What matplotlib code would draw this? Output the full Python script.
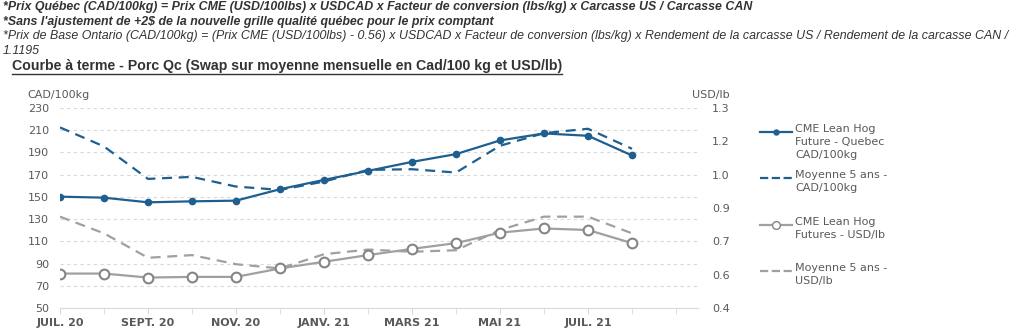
import numpy as np
import matplotlib.pyplot as plt
from matplotlib.lines import Line2D

# ============================================================================
# DATA
# ============================================================================

months = ['JUIL. 20', 'AOÛT 20', 'SEPT. 20', 'OCT. 20', 'NOV. 20', 'DÉC. 20',
          'JANV. 21', 'FÉVR. 21', 'MARS 21', 'AVR. 21', 'MAI 21', 'JUIN 21',
          'JUIL. 21', 'AOÛT 21', 'SEPT. 21']

# CAD/100kg (left axis)
quebec_cad = [150.2, 149.3, 145.1, 146.0, 146.6, 156.9, 165.3, 173.4,
              181.5, 188.5, 200.8, 207.1, 205.0, 187.3]
moy5_cad = [212.5, 195.4, 166.2, 168.0, 159.3, 156.3, 163.8, 174.3,
            174.9, 171.9, 196.0, 207.4, 211.3, 193.3]

# USD/lb (right axis)
cme_usd = [0.555, 0.555, 0.537, 0.540, 0.540, 0.578, 0.608, 0.638,
           0.666, 0.692, 0.739, 0.758, 0.751, 0.692]
moy5_usd = [0.811, 0.736, 0.626, 0.638, 0.597, 0.578, 0.642, 0.663,
            0.653, 0.660, 0.751, 0.811, 0.811, 0.736]

left_ticks = [50, 70, 90, 110, 130, 150, 170, 190, 210, 230]
right_ticks = [0.4, 0.55, 0.7, 0.85, 1.0, 1.15, 1.3]
right_labels = ['0.4', '0.6', '0.7', '0.9', '1.0', '1.2', '1.3']

notes = [
    ("*Prix Québec (CAD/100kg) = Prix CME (USD/100lbs) x USDCAD x Facteur de conversion (lbs/kg) x Carcasse US / Carcasse CAN", 'bold'),
    ("*Sans l'ajustement de +2$ de la nouvelle grille qualité québec pour le prix comptant", 'bold'),
    ("*Prix de Base Ontario (CAD/100kg) = (Prix CME (USD/100lbs) - 0.56) x USDCAD x Facteur de conversion (lbs/kg) x Rendement de la carcasse US / Rendement de la carcasse CAN /", 'normal'),
    ("1.1195", 'normal'),
]
title = "Courbe à terme - Porc Qc (Swap sur moyenne mensuelle en Cad/100 kg et USD/lb)"

# ============================================================================
# STYLE
# ============================================================================

blue = '#1f5f8f'
grey = '#a0a0a0'
label_col = '#595959'

W, H = 1024, 335
fig = plt.figure(figsize=(W / 100, H / 100), dpi=100)
ax1 = fig.add_axes([60 / W, 1 - 308 / H, 638 / W, 200 / H])
ax2 = ax1.twinx()

x = np.arange(len(quebec_cad))

ax1.plot(x, quebec_cad, color=blue, linewidth=1.6, marker='o', markersize=4.5,
         label='CME Lean Hog\nFuture - Quebec\nCAD/100kg', zorder=4)
ax1.plot(x, moy5_cad, color=blue, linewidth=1.6, linestyle=(0, (4.5, 3)),
         label='Moyenne 5 ans -\nCAD/100kg', zorder=3)
ax2.plot(x, cme_usd, color=grey, linewidth=1.6, marker='o', markersize=7,
         markerfacecolor='white', markeredgecolor='#858585', markeredgewidth=1.5,
         label='CME Lean Hog\nFutures - USD/lb', zorder=4)
ax2.plot(x, moy5_usd, color=grey, linewidth=1.6, linestyle=(0, (4.5, 3)),
         label='Moyenne 5 ans -\nUSD/lb', zorder=3)

ax1.set_ylim(50, 230)
ax2.set_ylim(0.4, 1.3)
ax1.set_xlim(0, 14.5)

ax1.set_yticks(left_ticks)
ax1.set_yticklabels([str(v) for v in left_ticks])
ax2.set_yticks(right_ticks)
ax2.set_yticklabels(right_labels)

# month ticks; labels every two months, last one (SEPT. 21) left blank
ax1.set_xticks(np.arange(len(months)), minor=True)
ax1.set_xticks(np.arange(0, len(months) - 1, 2))
ax1.set_xticklabels(months[:-1:2], fontweight='bold')

ax1.grid(axis='y', color='#d9d9d9', linestyle=(0, (3, 3)), linewidth=0.8)
ax1.set_axisbelow(True)

for a in (ax1, ax2):
    for s in a.spines.values():
        s.set_visible(False)
ax1.spines['bottom'].set_visible(True)
ax1.spines['bottom'].set_color('#d9d9d9')

ax1.tick_params(axis='y', length=0, pad=8, labelsize=8, labelcolor=label_col)
ax2.tick_params(axis='y', length=0, pad=10, labelsize=8, labelcolor=label_col)
ax1.tick_params(axis='x', which='both', length=4, color='#d9d9d9', pad=3,
                labelsize=8, labelcolor=label_col)

fig.text(27 / W, 1 - 95 / H, 'CAD/100kg', fontsize=8, color=label_col, va='center')
fig.text(692 / W, 1 - 95 / H, 'USD/lb', fontsize=8, color=label_col, va='center')

# legend drawn by hand so it sits where the reference has it
handles = ax1.get_lines() + ax2.get_lines()
legend_top = [125, 171, 218, 264]
for h, top in zip(handles, legend_top):
    line_y = 1 - (top + 7) / H
    fig.add_artist(Line2D([760 / W, 792 / W], [line_y, line_y], color=h.get_color(),
                          linestyle=h.get_linestyle(), linewidth=1.6,
                          transform=fig.transFigure))
    if h.get_marker() != 'None':
        fig.add_artist(Line2D([776 / W], [line_y], marker='o', color=h.get_color(),
                              markersize=h.get_markersize() * 0.8,
                              markerfacecolor=h.get_markerfacecolor(),
                              markeredgecolor=h.get_markeredgecolor(),
                              transform=fig.transFigure))
    fig.text(795 / W, 1 - (top - 1) / H, h.get_label(), fontsize=8, color=label_col,
             va='top', linespacing=1.35)

# notes and title
for i, (txt, w) in enumerate(notes):
    fig.text(3 / W, 1 - (7 + 14.5 * i) / H, txt, family=['Liberation Sans', 'DejaVu Sans'],
             fontsize=8.9, style='italic', fontweight=w, color='#333333', va='center')

t = fig.text(12 / W, 1 - 66 / H, title, family=['Liberation Sans', 'DejaVu Sans'],
             fontsize=10.2, fontweight='bold', color='#333333', va='center')
fig.canvas.draw()
bb = t.get_window_extent()
uy = (bb.y0 - 1) / H
fig.add_artist(Line2D([bb.x0 / W, bb.x1 / W], [uy, uy], color='#333333', linewidth=1,
                      transform=fig.transFigure))

fig.savefig('out.png', dpi=100)
